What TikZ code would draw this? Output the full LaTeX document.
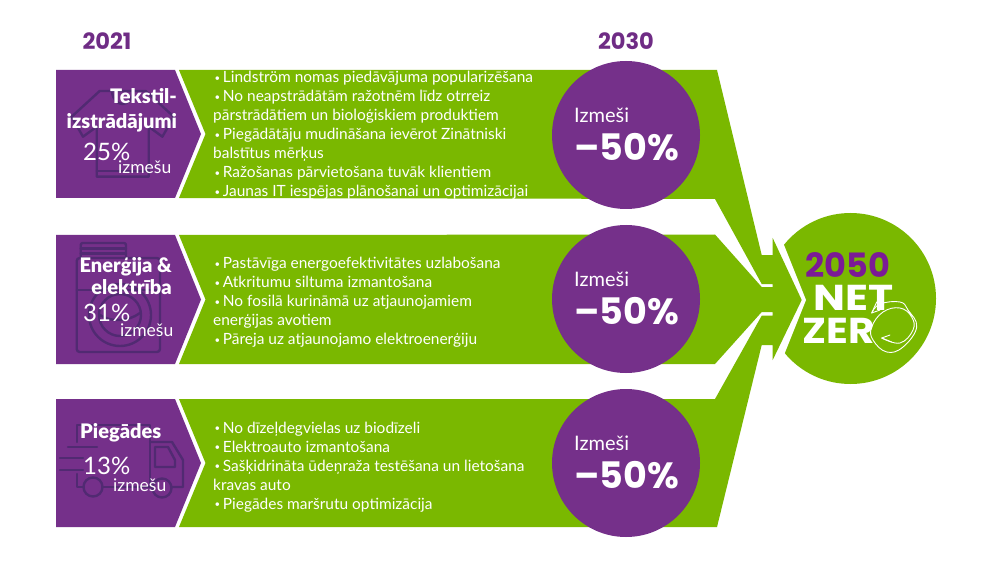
\documentclass[tikz,border=0pt]{standalone}
\usepackage{fontspec}
\usepackage{graphicx}
\setmainfont[BoldFont={Lato Black}]{Lato}
\newfontfamily\headfont{Poppins}
\newcommand{\bul}{\makebox[9.7pt][l]{\hspace*{1.5pt}\raisebox{1.5pt}{\scalebox{.62}{•}}}}
\definecolor{vio}{HTML}{75308A}
\definecolor{vioyear}{HTML}{6F2C85}
\definecolor{vionet}{HTML}{7B1A96}
\definecolor{lime}{HTML}{7AB800}
\definecolor{icon}{HTML}{512A72}
\tikzset{
  x=1pt,y=-1pt,
  bodytext/.style={text=white,align=left,anchor=north west,inner sep=0pt,font=\fontsize{15.45}{19}\selectfont,text depth=0pt},
  titletext/.style={text=white,inner sep=0pt,align=right,font=\fontsize{20}{22.5}\selectfont\bfseries},
  pcttext/.style={text=white,inner sep=0pt,font=\fontsize{24}{26}\selectfont},
  smalltext/.style={text=white,inner sep=0pt,font=\fontsize{17.5}{20}\selectfont},
  yeartext/.style={text=vioyear,inner sep=0pt,font=\fontsize{22.5}{26}\selectfont\headfont\bfseries},
  ringcirc/.style={circle,fill=vio,minimum size=148pt,inner sep=0pt},
  izmtext/.style={text=white,inner sep=0pt,anchor=west,font=\fontsize{20}{24}\selectfont},
  fiftytext/.style={text=white,inner sep=0pt,anchor=west,font=\fontsize{36.5}{40}\selectfont\headfont\bfseries},
  iconline/.style={draw=icon,line width=2.4pt,line join=round,line cap=round},
  swirl/.style={draw=white,line width=0.9pt,line cap=round,line join=round},
  netz/.style={text=white,inner sep=0pt,font=\fontsize{36}{38}\selectfont\headfont\bfseries}
}
\begin{document}
\begin{tikzpicture}
\useasboundingbox (0,0) rectangle (992,577);
\fill[white] (0,0) rectangle (992,577);
% big circle with white chevron cut
\node[circle,fill=lime,minimum size=171pt,inner sep=0pt] (goal) at (850.5,298.5) {};
\fill[white] (760,225) -- (776,225) -- (806,300) -- (776,375) -- (760,375) -- cycle;
% green arrows
\fill[lime] (179,70) -- (717,70) -- (761.7,255) -- (772.7,255) -- (772.7,238) -- (801.7,300)
  -- (772.7,360) -- (772.7,345) -- (761.7,345) -- (717,527) -- (179,527) -- (205.5,463) -- (179,399)
  -- (715,399) -- (761.7,315.7) -- (772.7,315.7) -- (772.7,312) -- (761.7,312) -- (715,364)
  -- (179,364) -- (205.5,299.5) -- (179,235) -- (715,234.5) -- (761.7,287) -- (772.7,287)
  -- (772.7,284) -- (761.7,284) -- (715,199) -- (179,198) -- (205.5,134) -- cycle;
% purple boxes
\fill[vio] (56,70) -- (175,70) -- (201,134) -- (175,198) -- (56,198) -- cycle;
\fill[vio] (56,235) -- (175,235) -- (201,299.5) -- (175,364) -- (56,364) -- cycle;
\fill[vio] (56,399) -- (175,399) -- (201,463) -- (175,527) -- (56,527) -- cycle;
% shirt icon
\draw[iconline] (99.7,91) -- (71.7,116.7) -- (83,136.7) -- (96.7,126.7) -- (96.7,176.7) -- (148.7,176.7)
  -- (148.7,126.7) -- (162.4,136.7) -- (173.7,116.7) -- (145.7,91) -- cycle;
\draw[iconline] (112,92) .. controls (114,108) and (131,108) .. (133,92);
\draw[iconline] (96.7,171) -- (148.7,171);
% machine icon
\draw[iconline,rounded corners=3pt] (76.7,258) rectangle (160,352);
\draw[iconline,rounded corners=2pt] (80.7,258) -- (80.7,243) -- (126,243) -- (126,258);
\draw[iconline] (80.7,248.5) -- (126,248.5) (80.7,253.5) -- (126,253.5);
\draw[iconline] (76.7,290) -- (160,290);
\draw[iconline] (120,315) circle[radius=31];
\draw[iconline] (120,315) circle[radius=21];
\draw[iconline] (100,315) .. controls (110,322) and (128,322) .. (140,313);
% truck icon
\draw[iconline] (76.7,442) -- (76.7,425) -- (150,425) -- (150,487) -- (102,487);
\draw[iconline] (76.7,474) -- (76.7,487) -- (84,487);
\draw[iconline] (150,442) -- (172,442) -- (183,460) -- (183,487) -- (171,487);
\draw[iconline] (153,487) -- (150,487);
\draw[iconline] (155,447) -- (168,447) -- (175,460) -- (175,467) -- (155,467) -- cycle;
\draw[iconline] (93,487) circle[radius=9.5];
\draw[iconline] (162,488) circle[radius=9.5];
\draw[iconline] (68,447) -- (97,447) (60,458) -- (83,458) (60,470) -- (83,470);
% years
\node[yeartext] (y2021) at (107,41) {2021};
\node[yeartext] (y2030) at (626,41) {2030};
% body lists
\node[bodytext] (list1) at (213,71) {\bul Lindström nomas piedāvājuma popularizēšana\\
\bul No neapstrādātām ražotnēm līdz otrreiz\\
pārstrādātiem un bioloģiskiem produktiem\\
\bul Piegādātāju mudināšana ievērot Zinātniski\\
balstītus mērķus\\
\bul Ražošanas pārvietošana tuvāk klientiem\\
\bul Jaunas IT iespējas plānošanai un optimizācijai};
\node[bodytext] (list2) at (213,257) {\bul Pastāvīga energoefektivitātes uzlabošana\\
\bul Atkritumu siltuma izmantošana\\
\bul No fosilā kurināmā uz atjaunojamiem\\
enerģijas avotiem\\
\bul Pāreja uz atjaunojamo elektroenerģiju};
\node[bodytext] (list3) at (213,421.5) {\bul No dīzeļdegvielas uz biodīzeli\\
\bul Elektroauto izmantošana\\
\bul Sašķidrināta ūdeņraža testēšana un lietošana\\
kravas auto\\
\bul Piegādes maršrutu optimizācija};
% box labels
\node[titletext,anchor=east] (t1) at (177,110.5) {Tekstil-\\[2.5pt]izstrādājumi};
\node[pcttext,anchor=west] (p1) at (83,152) {25\%};
\node[smalltext,anchor=west] (s1) at (118,167) {izmešu};
\node[titletext,anchor=east] (t2) at (172,276) {Enerģija \&\\elektrība};
\node[pcttext,anchor=west] (p2) at (83,313) {31\%};
\node[smalltext,anchor=west] (s2) at (120,330) {izmešu};
\node[titletext,anchor=west] (t3) at (80,433) {Piegādes};
\node[pcttext,anchor=west] (p3) at (83,466) {13\%};
\node[smalltext,anchor=west] (s3) at (113,485) {izmešu};
% circles
\node[ringcirc] (c1) at (626,135) {};
\node[ringcirc] (c2) at (626,299) {};
\node[ringcirc] (c3) at (626,463) {};
\node[izmtext] (i1) at (574,115) {Izmeši};
\node[fiftytext] (f1) at (574,147) {–50\%};
\node[izmtext] (i2) at (574,279) {Izmeši};
\node[fiftytext] (f2) at (574,311) {–50\%};
\node[izmtext] (i3) at (574,443) {Izmeši};
\node[fiftytext] (f3) at (574,475) {–50\%};
% net zero
\node[text=vionet,inner sep=0pt,font=\fontsize{33.5}{36}\selectfont\headfont\bfseries] (n2050) at (847.7,265) {2050};
\node[netz,anchor=west] (net) at (813,298) {\scalebox{1.18}[1]{NET}};
\node[netz,anchor=west] (zer) at (802.7,331) {\scalebox{1.12}[1]{ZER}};
\draw[swirl] plot[smooth,tension=0.7] coordinates {(871.7,313) (880,304) (900,302) (908,310) (916.7,327) (903,347) (886.7,352) (873,340) (871.7,327) (883,312) (900,308) (911.7,317) (913,330) (900,343) (881.7,338)};
\draw[swirl] (876.7,302) -- (871.7,313) -- (880,310) (891.7,342) -- (881.7,338) -- (890,335);
\end{tikzpicture}
\end{document}
